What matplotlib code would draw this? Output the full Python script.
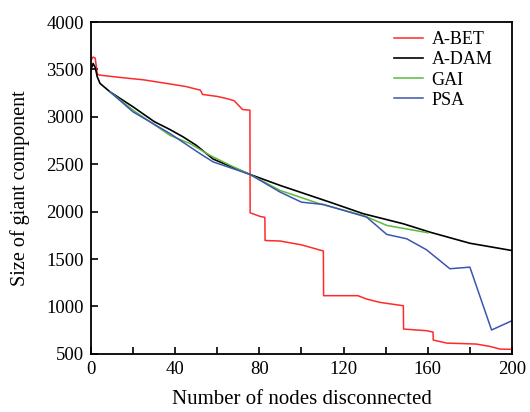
import matplotlib.pyplot as plt
from matplotlib.ticker import MultipleLocator

plt.rcParams['font.family'] = ['Liberation Serif', 'DejaVu Serif']

# A-BET
bet_x = [0, 1, 2, 3, 4, 8, 14, 25, 36, 45, 52, 53, 60, 64.4, 68, 72, 75.5,
         75.6, 80.3, 82.6, 82.7, 90, 100, 110.4, 110.5, 126.8, 131, 137.3,
         148.4, 148.5, 159.4, 162.5, 162.6, 169, 183, 189.5, 194.3, 200]
bet_y = [3600, 3630, 3620, 3450, 3440, 3430, 3415, 3390, 3352, 3320, 3281, 3236,
         3215, 3193, 3170, 3077, 3070,
         1988, 1950, 1940, 1696, 1690, 1650, 1585, 1114, 1114, 1078, 1043,
         1008, 762, 745, 730, 646, 614, 604, 579, 551, 548]

# A-DAM
dam_x = [0, 1, 2, 3, 4.3, 9, 20, 30, 37.5, 43.8, 50, 58, 66, 75.5, 89.8,
         113.5, 129.4, 148.4, 161, 180, 200]
dam_y = [3500, 3563, 3520, 3420, 3352, 3264, 3105, 2950, 2866, 2788, 2700,
         2555, 2480, 2393, 2277, 2100, 1978, 1872, 1784, 1667, 1590]

# GAI
gai_x = [9, 20, 37.5, 47, 56.5, 66, 75.5, 89.8, 108.8, 129.4, 140.5, 160.2]
gai_y = [3264, 3070, 2805, 2718, 2594, 2490, 2393, 2224, 2082, 1960, 1855,
         1777]

# PSA
psa_x = [9, 20, 37.5, 51.8, 58, 75.5, 89.8, 100, 110.4, 131, 140.5, 150,
         159.4, 170.5, 180, 190.3, 200]
psa_y = [3264, 3052, 2824, 2612, 2525, 2393, 2207, 2100, 2076, 1942, 1760,
         1714, 1598, 1398, 1415, 752, 850]

fig = plt.figure(figsize=(5.3, 4.12), dpi=100)
ax = fig.add_axes([0.1717, 0.141, 0.7943, 0.8056])

ax.plot(bet_x, bet_y, color='#ff2a2a', lw=1.1, label='A-BET')
ax.plot(dam_x, dam_y, color='black', lw=1.2, label='A-DAM')
ax.plot(gai_x, gai_y, color='#5cba3c', lw=1.1, label='GAI')
ax.plot(psa_x, psa_y, color='#3d55b0', lw=1.1, label='PSA')

ax.set_xlim(0, 200)
ax.set_ylim(500, 4000)
ax.xaxis.set_major_locator(MultipleLocator(40))
ax.xaxis.set_minor_locator(MultipleLocator(20))
ax.yaxis.set_major_locator(MultipleLocator(500))
ax.tick_params(direction='in', labelsize=13.5, length=5, width=1.2, pad=5)
ax.tick_params(which='minor', direction='in', length=5, width=1.2)
for s in ax.spines.values():
    s.set_linewidth(1.3)

ax.set_xlabel('Number of nodes disconnected', fontsize=15, labelpad=9)
ax.set_ylabel('Size of giant component', fontsize=14.5, labelpad=12)

ax.legend(loc='upper right', bbox_to_anchor=(0.975, 1.0), frameon=False,
          fontsize=13, handlelength=1.6, labelspacing=0.18,
          borderaxespad=0.1, handletextpad=0.5)

fig.savefig('out.png', dpi=100)
